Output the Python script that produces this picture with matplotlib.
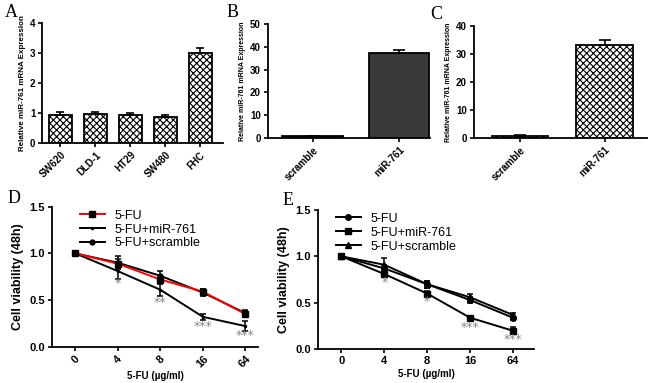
import numpy as np
import matplotlib.pyplot as plt

plt.rcParams['font.family'] = ['Liberation Sans', 'DejaVu Sans']
plt.rcParams['font.weight'] = 'bold'
plt.rcParams['hatch.linewidth'] = 0.8

# panel A
cells = ['SW620', 'DLD-1', 'HT29', 'SW480', 'FHC']
cell_expr = [0.93, 0.95, 0.92, 0.85, 3.0]
cell_err = [0.09, 0.08, 0.08, 0.08, 0.15]

# panels B and C
groups = ['scramble', 'miR-761']
b_expr = [0.8, 37.3]
b_err = [0.2, 1.3]
c_expr = [0.8, 33.2]
c_err = [0.2, 1.8]

# panels D and E
doses = ['0', '4', '8', '16', '64']
d_fu = [1.0, 0.89, 0.72, 0.59, 0.35]
d_fu_err = [0.02, 0.05, 0.05, 0.03, 0.03]
d_mir = [1.0, 0.81, 0.61, 0.32, 0.22]
d_mir_err = [0.02, 0.08, 0.07, 0.03, 0.05]
d_scr = [1.0, 0.90, 0.76, 0.58, 0.36]
d_scr_err = [0.02, 0.07, 0.05, 0.04, 0.03]
d_stars = ['', '*', '**', '***', '***']
d_star_y = [0, 0.68, 0.47, 0.22, 0.12]

e_fu = [1.0, 0.87, 0.70, 0.53, 0.34]
e_fu_err = [0.01, 0.04, 0.04, 0.03, 0.02]
e_mir = [1.0, 0.81, 0.60, 0.34, 0.20]
e_mir_err = [0.01, 0.03, 0.03, 0.02, 0.04]
e_scr = [1.0, 0.91, 0.70, 0.56, 0.37]
e_scr_err = [0.01, 0.07, 0.04, 0.04, 0.02]
e_stars = ['', '*', '*', '***', '***']
e_star_y = [0, 0.72, 0.51, 0.23, 0.11]

fig = plt.figure(figsize=(6.5, 3.83), dpi=100)


def style(ax, fs=7):
    for s in ['top', 'right']:
        ax.spines[s].set_visible(False)
    for s in ['left', 'bottom']:
        ax.spines[s].set_linewidth(1.3)
    ax.tick_params(width=1.2, length=3, labelsize=fs, pad=2)
    for t in ax.get_xticklabels() + ax.get_yticklabels():
        t.set_fontweight('bold')


def label(x, y, s):
    fig.text(x, y, s, family='Liberation Serif', fontsize=13, fontweight='normal')


def curve(ax, y, err, name, color, marker, ms, mfc=None, z=2):
    ax.errorbar(x, y, yerr=err, fmt='none', ecolor='black', capsize=2, elinewidth=1.1, capthick=1.1, zorder=z)
    ax.plot(x, y, color=color, marker=marker, ms=ms, mfc=mfc or 'black', mec='black', lw=1.4, label=name, zorder=z + 1)


def stars(ax, marks, ys):
    for i in range(len(marks)):
        if marks[i]:
            ax.text(x[i], ys[i], marks[i], color='#888888', ha='center', va='center',
                    fontsize=9, family='DejaVu Sans', fontweight='normal')


# A
ax = fig.add_axes([0.065, 0.627, 0.278, 0.313])
x = np.arange(len(cells))
ax.bar(x, cell_expr, width=0.67, color='white', edgecolor='black', hatch='xxxxx', linewidth=1.3)
ax.errorbar(x, cell_expr, yerr=[np.zeros(5), cell_err], fmt='none', ecolor='black', capsize=3, elinewidth=1.2, capthick=1.2)
ax.set_xlim(-0.52, 4.65)
ax.set_ylim(0, 4)
ax.set_yticks([0, 1, 2, 3, 4])
ax.set_xticks(x)
ax.set_xticklabels(cells, rotation=45, ha='right', rotation_mode='anchor')
ax.set_ylabel('Relative miR-761 mRNA Expression', fontsize=5.8, fontweight='bold', labelpad=3)
style(ax)
label(0.008, 0.955, 'A')

# B
ax = fig.add_axes([0.412, 0.640, 0.25, 0.297])
x = np.arange(2)
ax.bar(x, b_expr, width=0.7, color='#3a3a3a', edgecolor='black', linewidth=1.3)
ax.errorbar(x, b_expr, yerr=[np.zeros(2), b_err], fmt='none', ecolor='black', capsize=4, elinewidth=1.2, capthick=1.2)
ax.set_xlim(-0.52, 1.36)
ax.set_ylim(0, 50)
ax.set_yticks(range(0, 51, 10))
ax.set_xticks(x)
ax.set_xticklabels(groups, rotation=45, ha='right', rotation_mode='anchor')
ax.set_ylabel('Relative miR-761 mRNA Expression', fontsize=5, fontweight='bold', labelpad=3)
style(ax)
label(0.349, 0.955, 'B')

# C
ax = fig.add_axes([0.729, 0.640, 0.266, 0.292])
ax.bar(x, c_expr, width=0.67, color='white', edgecolor='black', hatch='xxxxx', linewidth=1.3)
ax.errorbar(x, c_expr, yerr=[np.zeros(2), c_err], fmt='none', ecolor='black', capsize=4, elinewidth=1.2, capthick=1.2)
ax.set_xlim(-0.55, 1.5)
ax.set_ylim(0, 40)
ax.set_yticks(range(0, 41, 10))
ax.set_xticks(x)
ax.set_xticklabels(groups, rotation=45, ha='right', rotation_mode='anchor')
ax.set_ylabel('Relative miR-761 mRNA Expression', fontsize=5, fontweight='bold', labelpad=3)
style(ax)
label(0.662, 0.950, 'C')

# D
ax = fig.add_axes([0.080, 0.095, 0.317, 0.365])
x = np.arange(len(doses))
curve(ax, d_fu, d_fu_err, '5-FU', 'red', 's', 4, z=5)
curve(ax, d_mir, d_mir_err, '5-FU+miR-761', 'black', 'o', 1.5)
curve(ax, d_scr, d_scr_err, '5-FU+scramble', 'black', 'o', 3.5)
stars(ax, d_stars, d_star_y)
ax.set_xlim(-0.55, 4.3)
ax.set_ylim(0, 1.5)
ax.set_yticks([0, 0.5, 1.0, 1.5])
ax.set_yticklabels(['0.0', '0.5', '1.0', '1.5'])
ax.set_xticks(x)
ax.set_xticklabels(doses, rotation=45, ha='center')
ax.set_xlabel('5-FU (\u00b5g/ml)', fontsize=7, fontweight='bold', labelpad=1)
ax.set_ylabel('Cell viability (48h)', fontsize=9, fontweight='bold')
style(ax, fs=8)
ax.legend(loc='upper left', bbox_to_anchor=(0.08, 1.06), frameon=False,
          handlelength=2.0, labelspacing=0.15, prop={'weight': 'normal', 'size': 9})
label(0.012, 0.47, 'D')

# E
ax = fig.add_axes([0.489, 0.088, 0.333, 0.364])
curve(ax, e_fu, e_fu_err, '5-FU', 'black', 'o', 4)
curve(ax, e_mir, e_mir_err, '5-FU+miR-761', 'black', 's', 4)
curve(ax, e_scr, e_scr_err, '5-FU+scramble', 'black', '^', 4)
stars(ax, e_stars, e_star_y)
ax.set_xlim(-0.55, 4.5)
ax.set_ylim(0, 1.5)
ax.set_yticks([0, 0.5, 1.0, 1.5])
ax.set_yticklabels(['0.0', '0.5', '1.0', '1.5'])
ax.set_xticks(x)
ax.set_xticklabels(doses)
ax.set_xlabel('5-FU (\u00b5g/ml)', fontsize=7, fontweight='bold', labelpad=2)
ax.set_ylabel('Cell viability (48h)', fontsize=9, fontweight='bold')
style(ax, fs=8)
ax.legend(loc='upper left', bbox_to_anchor=(0.03, 1.06), frameon=False,
          handlelength=2.0, labelspacing=0.15, prop={'weight': 'normal', 'size': 9})
label(0.435, 0.465, 'E')

fig.savefig('out.png', dpi=100)
